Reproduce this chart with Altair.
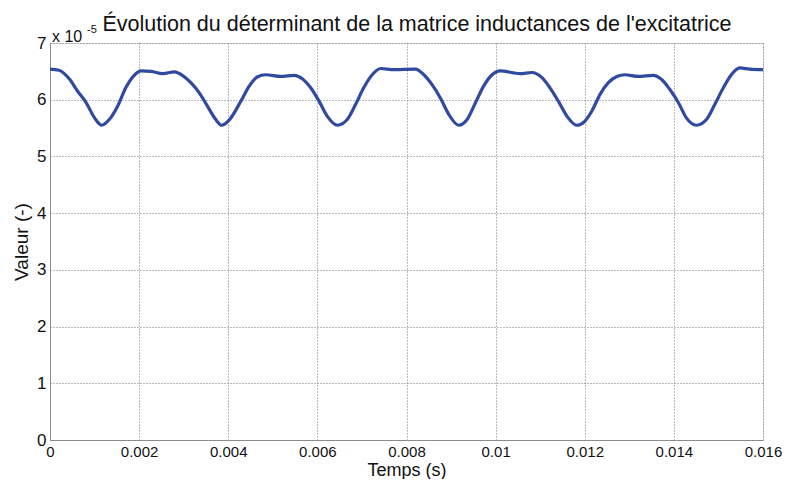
import altair as alt
import pandas as pd

# Time (s)
temps = [0, 0.0002, 0.00044, 0.00062, 0.00081, 0.001, 0.00116, 0.00133, 0.00152, 0.0017,
         0.00189, 0.00204, 0.00227, 0.00253, 0.00279, 0.00297, 0.00316, 0.00335, 0.00353, 0.00372,
         0.00385, 0.00402, 0.00428, 0.00447, 0.00465, 0.00484, 0.00518, 0.00548, 0.00566, 0.00585,
         0.00604, 0.00622, 0.00645, 0.00667, 0.00686, 0.00704, 0.00723, 0.00742, 0.00772, 0.0082,
         0.00839, 0.00857, 0.00876, 0.00895, 0.00917, 0.00936, 0.00955, 0.00973, 0.00992, 0.0101,
         0.01055, 0.01081, 0.01104, 0.01122, 0.01141, 0.0116, 0.01182, 0.012, 0.01216, 0.01234,
         0.01253, 0.01272, 0.0129, 0.0132, 0.01354, 0.01372, 0.01391, 0.0141, 0.01428, 0.01451,
         0.01473, 0.01492, 0.01511, 0.01529, 0.01548, 0.0157, 0.016]

# Determinant value, in units of 1e-5
valeur = [6.54, 6.52, 6.36, 6.15, 5.95, 5.68, 5.55, 5.65, 5.89, 6.21,
          6.43, 6.51, 6.50, 6.46, 6.49, 6.43, 6.30, 6.12, 5.89, 5.65,
          5.55, 5.64, 5.97, 6.24, 6.40, 6.44, 6.41, 6.43, 6.37, 6.21,
          5.97, 5.71, 5.55, 5.65, 5.92, 6.21, 6.44, 6.55, 6.53, 6.54,
          6.44, 6.27, 6.03, 5.74, 5.55, 5.65, 5.95, 6.24, 6.44, 6.51,
          6.46, 6.48, 6.39, 6.21, 5.97, 5.71, 5.55, 5.62, 5.80, 6.09,
          6.30, 6.41, 6.44, 6.41, 6.43, 6.36, 6.18, 5.95, 5.68, 5.55,
          5.65, 5.92, 6.21, 6.44, 6.56, 6.54, 6.53]

x_ticks = [0, 0.002, 0.004, 0.006, 0.008, 0.01, 0.012, 0.014, 0.016]
y_ticks = [0, 1, 2, 3, 4, 5, 6, 7]

title_text = "Évolution du déterminant de la matrice inductances de l'excitatrice"
exp_base = "x 10"
exp_power = "-5"

df = pd.DataFrame({"t": temps, "v": valeur})

FONT = "Liberation Sans"

line = alt.Chart(df).mark_line(color="#2f4a9e", strokeWidth=3.2, interpolate="monotone").encode(
    x=alt.X("t:Q",
            scale=alt.Scale(domain=[0, 0.016], nice=False, zero=False),
            axis=alt.Axis(values=x_ticks, format=".3~f", title="Temps (s)",
                          labelFontSize=15, labelFont=FONT, labelColor="#111",
                          labelPadding=4, tickSize=0,
                          titleFont=FONT, titleFontSize=18, titleFontWeight="normal",
                          titleColor="#111", titlePadding=2,
                          domainColor="#8c8c8c",
                          grid=True, gridColor="#777", gridDash=[1, 2], gridWidth=1,
                          labelFlush=False)),
    y=alt.Y("v:Q",
            scale=alt.Scale(domain=[0, 7], nice=False),
            axis=alt.Axis(values=y_ticks, format="d", title="Valeur (-)",
                          labelFontSize=17, labelFont=FONT, labelColor="#111",
                          labelPadding=4, tickSize=0,
                          titleFont=FONT, titleFontSize=19, titleFontWeight="normal",
                          titleColor="#111", titlePadding=5,
                          domainColor="#8c8c8c",
                          grid=True, gridColor="#777", gridDash=[1, 2], gridWidth=1,
                          labelFlush=False)),
)

title_mark = alt.Chart(pd.DataFrame({"s": [title_text]})).mark_text(
    align="center", baseline="alphabetic", fontSize=21.5, font=FONT, color="#111"
).encode(text="s:N", x=alt.value(367), y=alt.value(-12))

exp1 = alt.Chart(pd.DataFrame({"s": [exp_base]})).mark_text(
    align="left", baseline="alphabetic", fontSize=16, font=FONT, color="#111"
).encode(text="s:N", x=alt.value(2), y=alt.value(-1))

exp2 = alt.Chart(pd.DataFrame({"s": [exp_power]})).mark_text(
    align="left", baseline="alphabetic", fontSize=11, font=FONT, color="#111"
).encode(text="s:N", x=alt.value(37), y=alt.value(-10))

chart = alt.layer(line, title_mark, exp1, exp2).properties(
    width=713, height=397,
    padding={"left": 42, "top": 35, "right": 19, "bottom": 39},
    autosize=alt.AutoSizeParams(type="none"),
).configure_view(stroke="#8c8c8c", strokeWidth=1).configure(background="white")

chart.save("out.html", embed_options={"renderer": "svg", "actions": False})
